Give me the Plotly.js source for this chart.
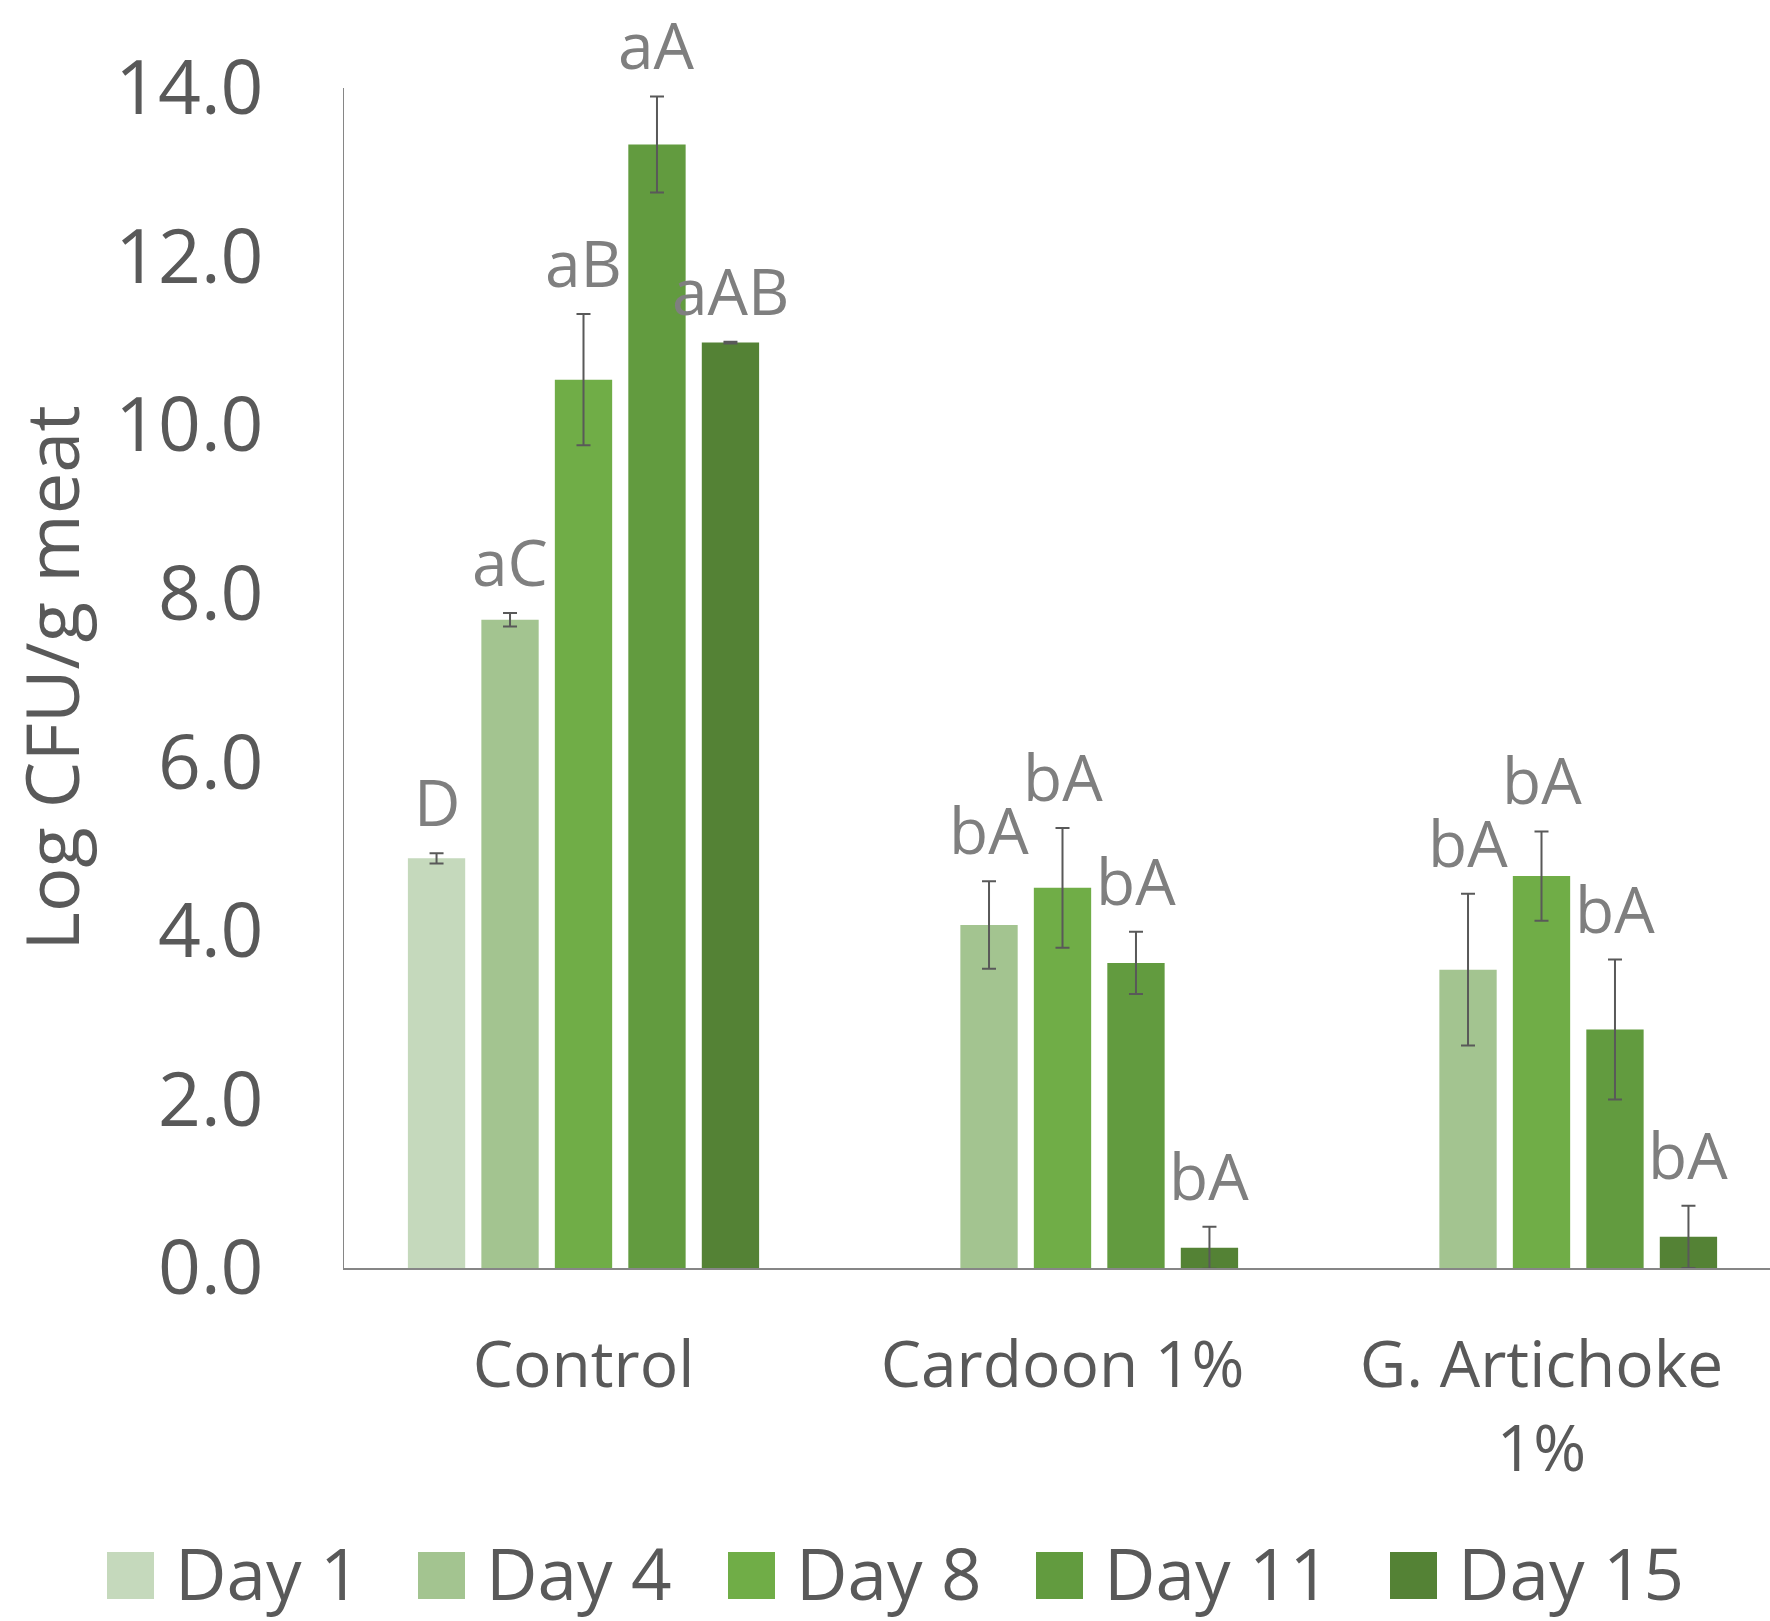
<!DOCTYPE html>
<html><head><meta charset="utf-8">
<script src="https://cdn.plot.ly/plotly-3.0.1.min.js"></script>
<style>html,body{margin:0;padding:0;background:#fff}</style>
</head><body><div id="chart" style="width:1770px;height:1621px"></div>
<script>
// ---- data ----
const categories = ['Control', 'Cardoon 1%', 'G. Artichoke<br>1%'];
const seriesNames = ['Day 1', 'Day 4', 'Day 8', 'Day 11', 'Day 15'];
const day1 = [4.86, null, null];
const day4 = [7.69, 4.07, 3.54];
const day8 = [10.54, 4.51, 4.65];
const day11 = [13.33, 3.62, 2.83];
const day15 = [10.98, 0.24, 0.37];
const err1 = [0.06, null, null];
const err4 = [0.08, 0.52, 0.90];
const err8 = [0.78, 0.71, 0.53];
const err11 = [0.57, 0.37, 0.83];
const err15 = [0.01, 0.25, 0.37];
const lbl1 = ['D', '', ''];
const lbl4 = ['aC', 'bA', 'bA'];
const lbl8 = ['aB', 'bA', 'bA'];
const lbl11 = ['aA', 'bA', 'bA'];
const lbl15 = ['aAB', 'bA', 'bA'];
const yTickVals = [0, 2, 4, 6, 8, 10, 12, 14];

// ---- styles ----
const colors = ['#C5D9BC', '#A3C490', '#70AD47', '#629B3F', '#548235'];
const FONT = 'Open Sans, Noto Sans, sans-serif';
const values = [day1, day4, day8, day11, day15];
const errs = [err1, err4, err8, err11, err15];
const labels = [lbl1, lbl4, lbl8, lbl11, lbl15];

const M = {l: 344, r: 0, t: 88, b: 353};
const W = 1770, H = 1621;
const plotW = W - M.l - M.r, plotH = H - M.t - M.b;
const bargap = 0.233, bargroupgap = 0.22;

const traces = seriesNames.map((name, i) => ({
  type: 'bar', name: name, x: categories, y: values[i],
  marker: {color: colors[i]},
  error_y: {type: 'data', array: errs[i], visible: true, color: '#595959', thickness: 2, width: 7},
  showlegend: false, hoverinfo: 'skip'
}));

const annotations = [];
const slot = (1 - bargap) / seriesNames.length;
labels.forEach((arr, i) => {
  arr.forEach((t, c) => {
    if (!t) return;
    annotations.push({
      x: c + (i - (seriesNames.length - 1) / 2) * slot, xref: 'x',
      y: values[i][c] + (errs[i][c] || 0), yref: 'y',
      text: t, showarrow: false, xanchor: 'center', yanchor: 'bottom', yshift: 6,
      font: {family: FONT, size: 64, color: '#7F7F7F'}
    });
  });
});

// custom legend (large square swatches)
const px2x = px => (px - M.l) / plotW;
const px2y = py => 1 - (py - M.t) / plotH;
const legendSwatchX = [107, 418, 728, 1036, 1390];
const shapes = [];
seriesNames.forEach((name, i) => {
  const sx = legendSwatchX[i];
  shapes.push({type: 'rect', xref: 'paper', yref: 'paper',
    x0: px2x(sx), x1: px2x(sx + 47), y0: px2y(1599), y1: px2y(1552),
    fillcolor: colors[i], line: {width: 0}});
  annotations.push({xref: 'paper', yref: 'paper', x: px2x(sx + 66), y: px2y(1572),
    text: name, showarrow: false, xanchor: 'left', yanchor: 'middle',
    font: {family: FONT, size: 71, color: '#595959'}});
});

const layout = {
  width: W, height: H, margin: M,
  paper_bgcolor: '#fff', plot_bgcolor: '#fff',
  barmode: 'group', bargap: bargap, bargroupgap: bargroupgap,
  showlegend: false,
  font: {family: FONT, color: '#595959'},
  xaxis: {type: 'category', range: [-0.5, 2.5 - 11 / 479], showline: true, linecolor: '#868686', linewidth: 1.5,
    ticks: '', showgrid: false, zeroline: false, ticklabelstandoff: 41,
    tickfont: {family: FONT, size: 64, color: '#595959'}},
  yaxis: {range: [0, 14], tickvals: yTickVals, tickformat: '.1f', showline: true, linecolor: '#868686', linewidth: 1.5,
    ticks: '', showgrid: false, zeroline: false, ticklabelstandoff: 64,
    tickfont: {family: FONT, size: 75, color: '#595959'},
    title: {text: 'Log CFU/g meat', standoff: 15, font: {family: FONT, size: 74, color: '#595959'}}},
  annotations: annotations, shapes: shapes
};

Plotly.newPlot('chart', traces, layout, {displayModeBar: false, staticPlot: true});
</script></body></html>
